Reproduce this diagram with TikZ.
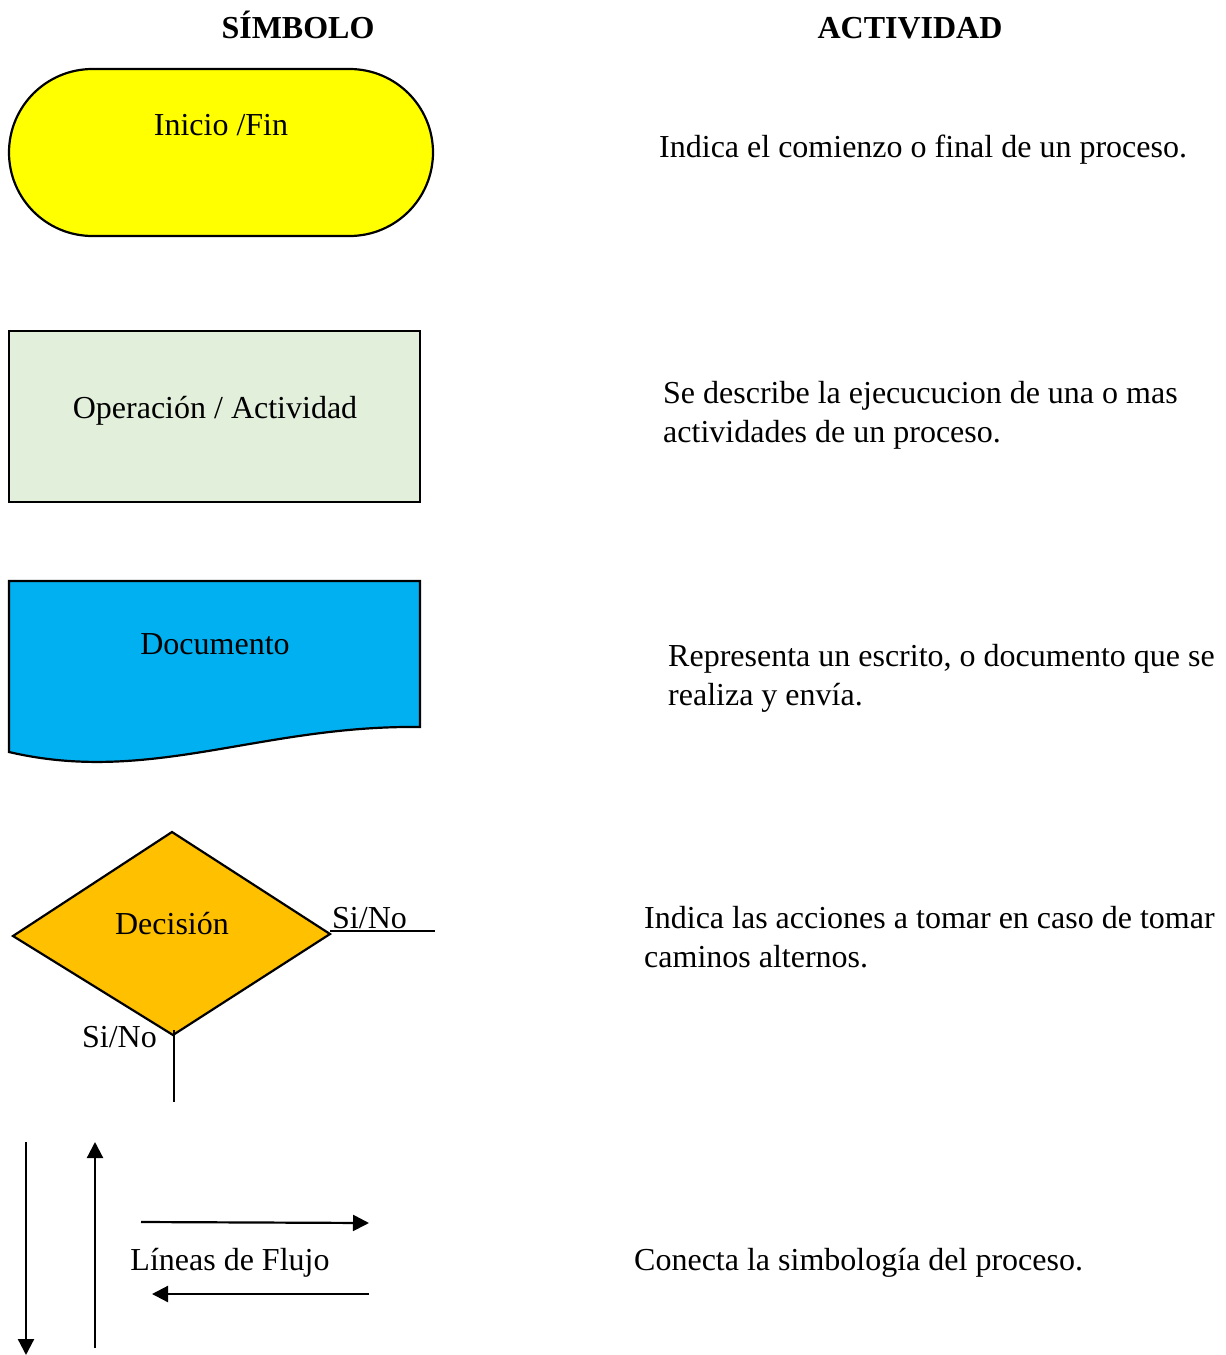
\documentclass[tikz,border=0pt]{standalone}
\usepackage{fontspec}
\setmainfont{Liberation Serif}
\usetikzlibrary{shapes.misc,arrows.meta}
\definecolor{termfill}{HTML}{FFFF00}
\definecolor{opfill}{HTML}{E2EFDA}
\definecolor{docfill}{HTML}{00B0F0}
\definecolor{decfill}{HTML}{FFC000}
\tikzset{
  shapeline/.style={draw=black, line width=2.2pt},
  txt/.style={inner sep=0pt, font=\fontsize{32}{39}\selectfont},
  desc/.style={txt, anchor=west, align=left},
  head/.style={inner sep=0pt, anchor=base, font=\fontsize{32}{39}\selectfont\bfseries},
  flow/.style={line width=2.2pt, -{Triangle[length=16pt,width=16pt]}},
  plain/.style={line width=2.2pt}
}
\begin{document}
\begin{tikzpicture}[x=1pt,y=-1pt]
\useasboundingbox (0,0) rectangle (1226,1355);
% headers
\node[head] (h1) at (298,38) {SÍMBOLO};
\node[head] (h2) at (910,38) {ACTIVIDAD};
% terminal
\node[shapeline, fill=termfill, rounded rectangle, minimum width=424pt, minimum height=167pt, inner sep=0pt] (term) at (221,152.5) {};
\node[txt] (termtxt) at (221,125) {Inicio /Fin};
% operation
\node[shapeline, fill=opfill, rectangle, minimum width=411pt, minimum height=171pt, inner sep=0pt] (op) at (214.5,416.5) {};
\node[txt] (optxt) at (215,411) {Operación / Actividad};
% document
\draw[shapeline, fill=docfill] (9,581) -- (420,581) -- (420,727)
  .. controls (260,725) and (150,785) .. (9,752) -- cycle;
\node[txt] (doctxt) at (215,644) {Documento};
% decision
\coordinate (dl) at (13,936);
\coordinate (dt) at (172,832);
\coordinate (dr) at (330,934);
\coordinate (db) at (173,1035);
\draw[shapeline, fill=decfill, line join=miter] (dl) -- (dt) -- (dr) -- (db) -- cycle;
\node[txt] (dectxt) at (172,924) {Decisión};
\coordinate (rend) at (435,931);
\coordinate (rstart) at (330,931);
\draw[plain] (rstart) -- (rend);
\node[txt, anchor=south west] (siR) at (332,929) {Si/No};
\coordinate (btop) at (174,1030);
\coordinate (bend) at (174,1102);
\draw[plain] (btop) -- (bend);
\node[txt, anchor=east] (siB) at (157,1037) {Si/No};
% flow lines
\coordinate (a1s) at (26,1142);
\coordinate (a1e) at (26,1355);
\coordinate (a2s) at (95,1348);
\coordinate (a2e) at (95,1142);
\coordinate (a3s) at (141,1222);
\coordinate (a3e) at (369,1223);
\coordinate (a4s) at (369,1294);
\coordinate (a4e) at (152,1294);
\draw[flow] (a1s) -- (a1e);
\draw[flow] (a2s) -- (a2e);
\draw[flow] (a3s) -- (a3e);
\draw[flow] (a4s) -- (a4e);
\node[txt] (flowtxt) at (230,1263) {Líneas de Flujo};
% descriptions
\node[desc] (d1) at (659,150) {Indica el comienzo o final de un proceso.};
\node[desc] (d2) at (663,415.5) {Se describe la ejecucucion de una o mas\\actividades de un proceso.};
\node[desc] (d3) at (668,678.5) {Representa un escrito, o documento que se\\realiza y envía.};
\node[desc] (d4) at (644,937) {Indica las acciones a tomar en caso de tomar\\caminos alternos.};
\node[desc] (d5) at (634,1263) {Conecta la simbología del proceso.};
\end{tikzpicture}
\end{document}
